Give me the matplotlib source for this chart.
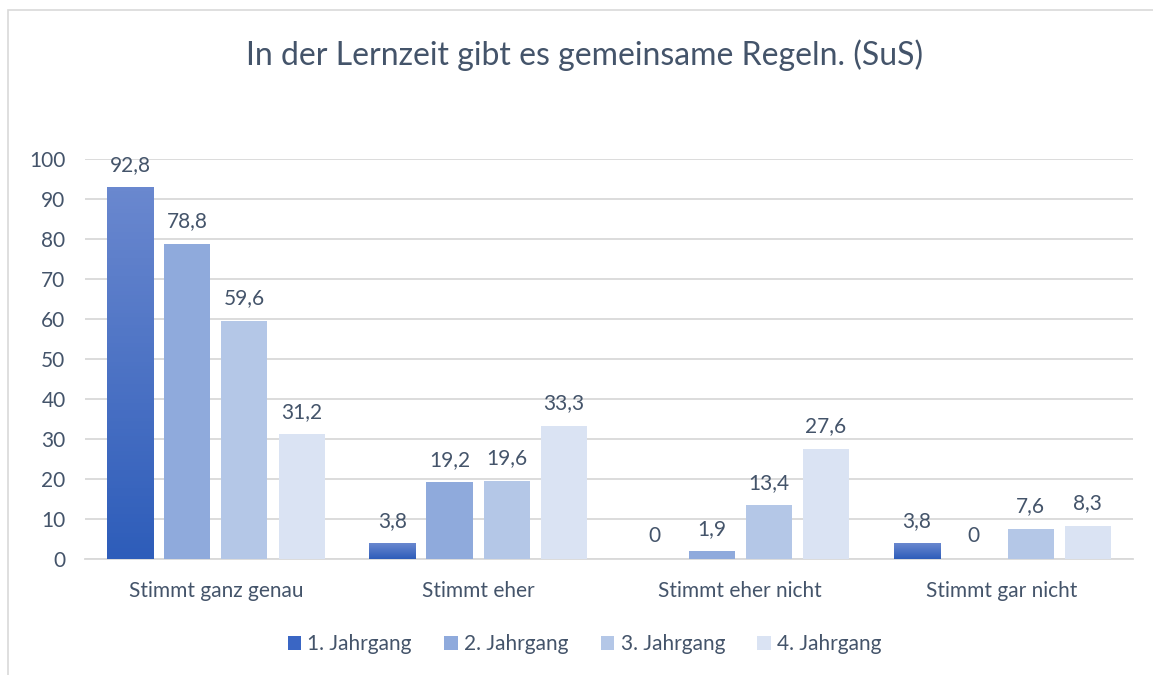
import matplotlib.pyplot as plt
import numpy as np
from matplotlib.patches import Rectangle, Patch
from matplotlib.colors import LinearSegmentedColormap

# data
categories = ["Stimmt ganz genau", "Stimmt eher", "Stimmt eher nicht", "Stimmt gar nicht"]
series_names = ["1. Jahrgang", "2. Jahrgang", "3. Jahrgang", "4. Jahrgang"]
jg1 = [92.8, 3.8, 0, 3.8]
jg2 = [78.8, 19.2, 1.9, 0]
jg3 = [59.6, 19.6, 13.4, 7.6]
jg4 = [31.2, 33.3, 27.6, 8.3]
title = "In der Lernzeit gibt es gemeinsame Regeln. (SuS)"

txt_col = "#44546a"
grid_col = "#d9d9d9"
colors = ["#3a66c4", "#8faadc", "#b4c7e7", "#dae3f3"]
grad = LinearSegmentedColormap.from_list("g1", ["#2e5dba", "#6a88cf"])

plt.rcParams['font.family'] = ['Lato', 'DejaVu Sans']

fig = plt.figure(figsize=(11.53, 6.75), dpi=100)
ax = fig.add_axes([0.0737, 0.1719, 0.909, 0.5926])

# chart border
fig.patches.append(Rectangle((0.007, -0.1), 1.1, 1.085, transform=fig.transFigure,
                             fill=False, edgecolor=grid_col, linewidth=1.2))

x = np.arange(len(categories))
step = 0.2176
width = 0.1756
all_series = [jg1, jg2, jg3, jg4]

for i, vals in enumerate(all_series):
    xs = x + (i - 1.5) * step
    if i == 0:
        bars = ax.bar(xs, vals, width, color='none', edgecolor='none', zorder=3)
        for b in bars:
            h = b.get_height()
            if h <= 0:
                continue
            x0 = b.get_x()
            ax.imshow(np.linspace(0, 1, 100).reshape(-1, 1), cmap=grad, origin='lower',
                      extent=[x0, x0 + width, 0, h], aspect='auto', zorder=3)
    else:
        ax.bar(xs, vals, width, color=colors[i], zorder=3)
    for xv, v in zip(xs, vals):
        lab = ("%.1f" % v).replace(".", ",") if v != int(v) else str(int(v))
        ax.annotate(lab, (xv, v), xytext=(0, 9), textcoords='offset points',
                    ha='center', va='bottom', fontsize=15, color=txt_col)

ax.set_xlim(-0.5, len(categories) - 0.5)
ax.set_ylim(0, 100)
ax.set_yticks(range(0, 101, 10))
ax.set_xticks(x)
ax.set_xticklabels(categories)
ax.yaxis.grid(True, color=grid_col, linewidth=1.3, zorder=0)
ax.set_axisbelow(True)
for s in ['top', 'right', 'left']:
    ax.spines[s].set_visible(False)
ax.spines['bottom'].set_color(grid_col)
ax.spines['bottom'].set_linewidth(1.3)
ax.tick_params(axis='both', length=0, labelsize=15, labelcolor=txt_col)
ax.tick_params(axis='y', pad=14)
ax.tick_params(axis='x', pad=16)

fig.text(0.507, 0.918, title, ha='center', va='center', fontsize=23, color=txt_col)

handles = [Patch(facecolor=c, edgecolor='none') for c in colors]
fig.legend(handles, series_names, loc='center', bbox_to_anchor=(0.507, 0.046), ncol=4,
           frameon=False, fontsize=15, labelcolor=txt_col, handlelength=0.65,
           handleheight=0.65, handletextpad=0.3, columnspacing=1.55)

fig.savefig("out.png", dpi=100)
